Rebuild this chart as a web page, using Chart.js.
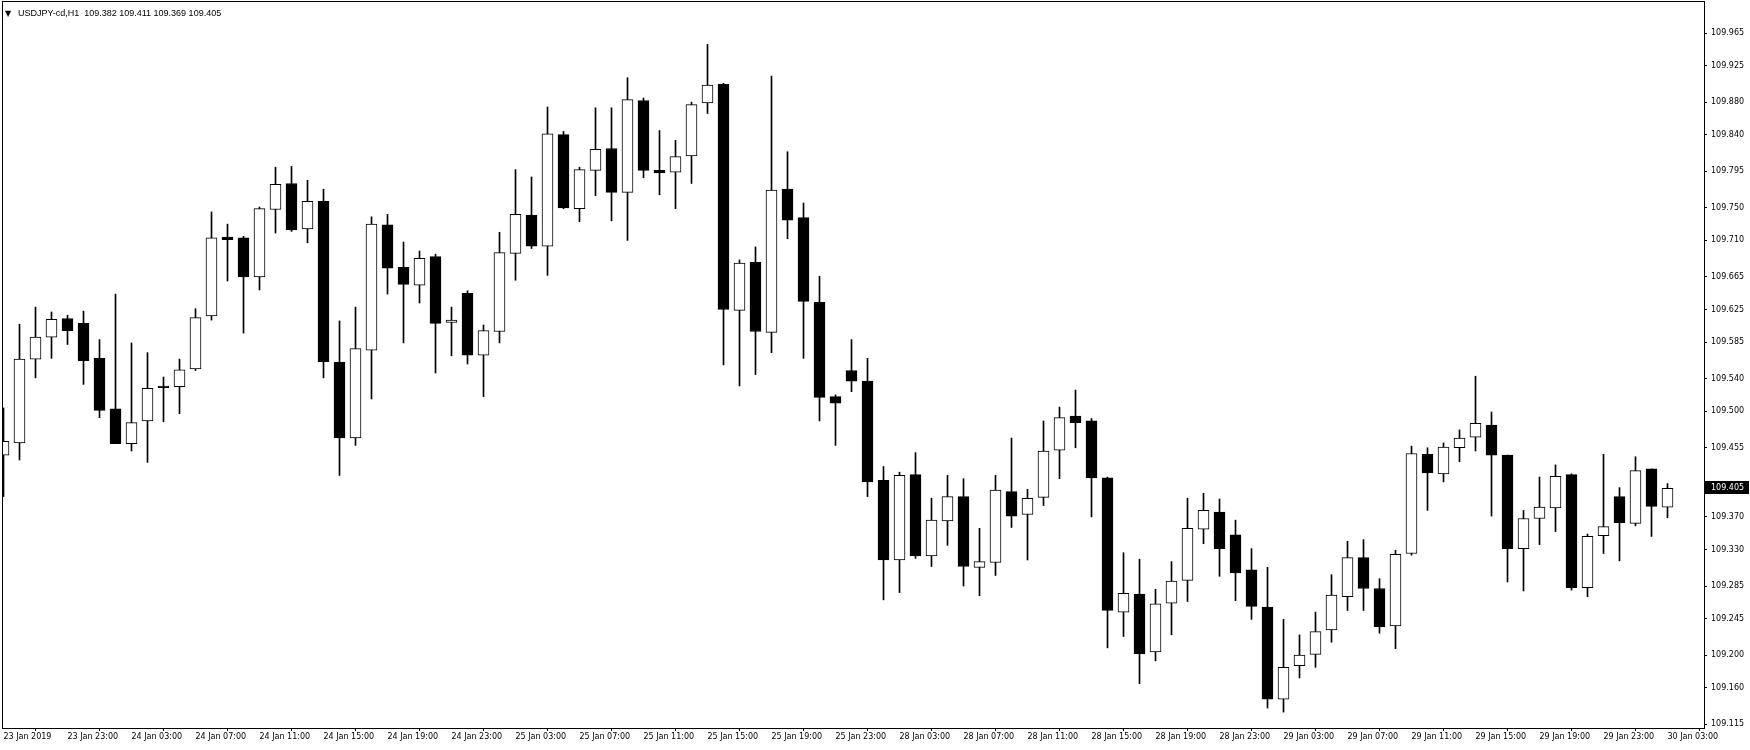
<!DOCTYPE html>
<html><head><meta charset="utf-8">
<script src="https://cdn.jsdelivr.net/npm/chart.js@4.4.1/dist/chart.umd.min.js"></script>
<style>
html,body{margin:0;padding:0;background:#fff;overflow:hidden;}
#wrap{position:relative;width:1750px;height:750px;}
#title{position:absolute;left:5px;top:8px;font:9px "Liberation Sans",Arial,sans-serif;color:#000;white-space:pre;line-height:10px;}
#title .tri{display:inline-block;width:13px;font:8px "DejaVu Sans",sans-serif;}
</style></head><body>
<div id="wrap"><canvas id="c" width="1750" height="750"></canvas><div id="title"><span class="tri">&#9660;</span><span id="ttext"></span></div></div>
<script>
const symbol = "USDJPY-cd,H1";

const openP  = [109.446,109.461,109.564,109.591,109.614,109.608,109.565,109.503,109.460,109.488,109.531,109.530,109.552,109.617,109.714,109.713,109.665,109.748,109.780,109.724,109.758,109.560,109.467,109.575,109.729,109.677,109.655,109.690,109.609,109.645,109.569,109.598,109.694,109.741,109.703,109.840,109.749,109.796,109.823,109.769,109.882,109.796,109.794,109.814,109.879,109.902,109.624,109.683,109.597,109.773,109.738,109.634,109.518,109.550,109.537,109.415,109.317,109.422,109.322,109.365,109.395,109.308,109.314,109.401,109.373,109.394,109.452,109.494,109.488,109.418,109.253,109.275,109.204,109.264,109.292,109.355,109.376,109.348,109.305,109.259,109.146,109.187,109.201,109.231,109.272,109.320,109.282,109.236,109.325,109.447,109.423,109.455,109.468,109.483,109.446,109.331,109.368,109.381,109.422,109.283,109.347,109.395,109.362,109.429,109.382];
const highP  = [109.504,109.607,109.628,109.622,109.618,109.623,109.588,109.644,109.584,109.572,109.542,109.564,109.626,109.745,109.730,109.715,109.751,109.800,109.801,109.784,109.773,109.611,109.628,109.739,109.742,109.708,109.697,109.693,109.628,109.648,109.606,109.720,109.797,109.788,109.874,109.844,109.800,109.873,109.873,109.910,109.885,109.845,109.833,109.880,109.951,109.903,109.686,109.702,109.912,109.819,109.756,109.666,109.520,109.588,109.565,109.432,109.425,109.449,109.393,109.421,109.417,109.356,109.421,109.467,109.404,109.488,109.505,109.526,109.491,109.419,109.326,109.318,109.281,109.315,109.393,109.399,109.392,109.366,109.331,109.308,109.244,109.225,109.253,109.299,109.340,109.342,109.294,109.329,109.457,109.455,109.461,109.477,109.543,109.499,109.446,109.378,109.419,109.434,109.423,109.349,109.447,109.406,109.444,109.429,109.411];
const lowP   = [109.395,109.440,109.541,109.565,109.582,109.533,109.492,109.460,109.451,109.437,109.487,109.497,109.550,109.612,109.660,109.596,109.649,109.719,109.721,109.707,109.541,109.421,109.458,109.515,109.644,109.584,109.633,109.547,109.568,109.558,109.518,109.584,109.661,109.700,109.667,109.749,109.733,109.765,109.734,109.710,109.787,109.766,109.749,109.780,109.866,109.557,109.531,109.545,109.572,109.712,109.565,109.488,109.458,109.524,109.395,109.268,109.277,109.319,109.309,109.335,109.285,109.273,109.298,109.357,109.317,109.384,109.417,109.455,109.370,109.209,109.223,109.165,109.193,109.225,109.266,109.337,109.297,109.267,109.244,109.135,109.130,109.172,109.185,109.216,109.255,109.255,109.227,109.208,109.323,109.378,109.413,109.438,109.451,109.371,109.290,109.279,109.336,109.352,109.280,109.272,109.325,109.316,109.359,109.346,109.369];
const closeP = [109.463,109.564,109.591,109.613,109.599,109.562,109.501,109.460,109.486,109.528,109.529,109.551,109.615,109.713,109.711,109.665,109.749,109.779,109.723,109.758,109.561,109.467,109.577,109.730,109.676,109.656,109.688,109.608,109.612,109.569,109.599,109.695,109.742,109.703,109.841,109.750,109.797,109.822,109.769,109.883,109.796,109.793,109.813,109.877,109.901,109.625,109.682,109.598,109.772,109.735,109.635,109.517,109.510,109.537,109.413,109.317,109.421,109.322,109.366,109.395,109.309,109.315,109.403,109.371,109.393,109.451,109.492,109.486,109.418,109.255,109.276,109.202,109.263,109.291,109.356,109.378,109.331,109.301,109.260,109.146,109.185,109.200,109.229,109.274,109.320,109.282,109.235,109.324,109.448,109.424,109.456,109.467,109.485,109.446,109.331,109.368,109.382,109.420,109.283,109.346,109.358,109.363,109.427,109.383,109.405];

const timeTickIndex  = [0,4,8,12,16,20,24,28,32,36,40,44,48,52,56,60,64,68,72,76,80,84,88,92,96,100,104];
const timeTickLabels = ["23 Jan 2019","23 Jan 23:00","24 Jan 03:00","24 Jan 07:00","24 Jan 11:00","24 Jan 15:00","24 Jan 19:00","24 Jan 23:00","25 Jan 03:00","25 Jan 07:00","25 Jan 11:00","25 Jan 15:00","25 Jan 19:00","25 Jan 23:00","28 Jan 03:00","28 Jan 07:00","28 Jan 11:00","28 Jan 15:00","28 Jan 19:00","28 Jan 23:00","29 Jan 03:00","29 Jan 07:00","29 Jan 11:00","29 Jan 15:00","29 Jan 19:00","29 Jan 23:00","30 Jan 03:00"];
const priceTicks = [109.965,109.925,109.880,109.840,109.795,109.750,109.710,109.665,109.625,109.585,109.540,109.500,109.455,109.370,109.330,109.285,109.245,109.200,109.160,109.115];

const n = closeP.length;
const last = n - 1;
document.getElementById('ttext').textContent =
  symbol + '  ' + [openP[last], highP[last], lowP[last], closeP[last]].map(v => v.toFixed(3)).join(' ');

const bodies = closeP.map((c, i) => ({x: i, y: [openP[i], c]}));
const wicks  = closeP.map((c, i) => ({x: i, y: [lowP[i], highP[i]]}));
const bodyFill = closeP.map((c, i) => c >= openP[i] ? '#ffffff' : '#000000');

const FONT = {family: '"DejaVu Sans", sans-serif', size: 8};

const framePlugin = {
  id: 'frame',
  afterDraw(chart) {
    const {ctx, chartArea: a} = chart;
    ctx.save();
    ctx.strokeStyle = '#000';
    ctx.lineWidth = 1;
    ctx.strokeRect(a.left + 0.5, a.top + 0.5, a.right - a.left, a.bottom - a.top);
    ctx.restore();
  }
};
const priceLabelPlugin = {
  id: 'priceLabel',
  afterDraw(chart) {
    const {ctx, chartArea: a} = chart;
    const v = closeP[last];
    const y = Math.round(chart.scales.y.getPixelForValue(v));
    ctx.save();
    ctx.fillStyle = '#000';
    ctx.fillRect(a.right + 1, y - 7, 44, 13);
    ctx.fillStyle = '#fff';
    ctx.font = '8px "DejaVu Sans", sans-serif';
    ctx.textBaseline = 'middle';
    ctx.textAlign = 'left';
    ctx.fillText(v.toFixed(3), a.right + 7, y);
    ctx.restore();
  }
};

new Chart(document.getElementById('c'), {
  type: 'bar',
  data: {
    datasets: [
      {label: 'Body', data: bodies, order: 1, grouped: false, barThickness: 11, minBarLength: 1,
       borderWidth: 1, borderSkipped: false, borderColor: '#000', backgroundColor: bodyFill},
      {label: 'Wick', data: wicks, order: 2, grouped: false, barThickness: 1,
       borderWidth: 0, backgroundColor: '#000'}
    ]
  },
  options: {
    responsive: false, animation: false, devicePixelRatio: 1,
    layout: {padding: {left: 2, top: 1, right: 0, bottom: 0}, autoPadding: false},
    plugins: {legend: {display: false}, tooltip: {enabled: false}, title: {display: false}},
    scales: {
      x: {
        type: 'linear', min: -0.09375, max: 106.28125, offset: false,
        afterFit: s => { s.height = 22; s.paddingLeft = 0; s.paddingRight = 0; s.paddingTop = 0; s.paddingBottom = 0; },
        afterBuildTicks: s => { s.ticks = timeTickIndex.map(v => ({value: v})); },
        grid: {display: true, drawOnChartArea: false, drawTicks: true, tickLength: 3, color: '#000'},
        border: {display: false},
        ticks: {autoSkip: false, maxRotation: 0, minRotation: 0, align: 'start', padding: 1,
                color: '#000', font: FONT, callback: (v, i) => timeTickLabels[i]}
      },
      y: {
        position: 'right', min: 109.11046, max: 110.00435,
        afterFit: s => { s.width = 46; s.paddingTop = 0; s.paddingBottom = 0; s.paddingLeft = 0; s.paddingRight = 0; },
        afterBuildTicks: s => { s.ticks = priceTicks.map(v => ({value: v})); },
        grid: {display: true, drawOnChartArea: false, drawTicks: true, tickLength: 3, color: '#000'},
        border: {display: false},
        ticks: {padding: 4, color: '#000', font: FONT, callback: v => Number(v).toFixed(3)}
      }
    }
  },
  plugins: [framePlugin, priceLabelPlugin]
});
</script>
</body></html>
